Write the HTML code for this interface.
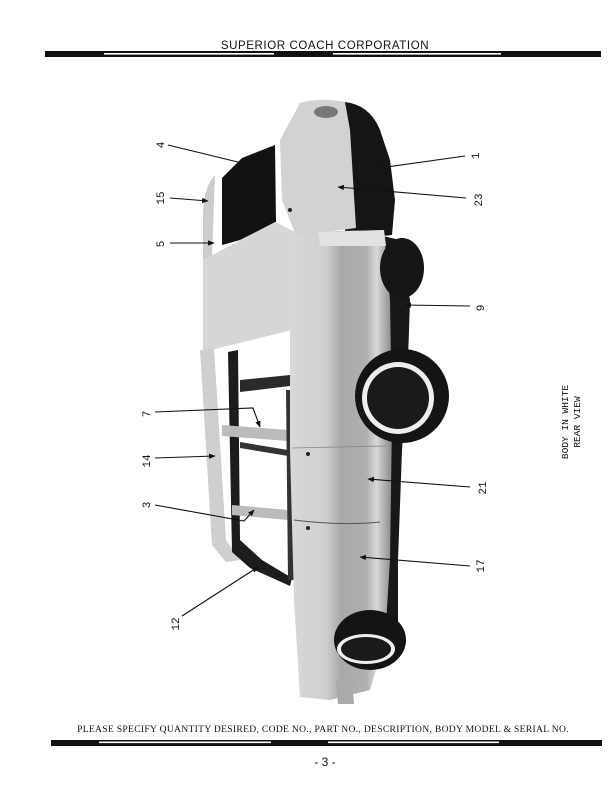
<!DOCTYPE html>
<html><head><meta charset="utf-8"><style>
html,body{margin:0;padding:0;background:#fff;}
body{width:612px;height:792px;position:relative;overflow:hidden;font-family:"Liberation Serif",serif;}
</style></head><body>
<svg width="612" height="792" viewBox="0 0 612 792" xmlns="http://www.w3.org/2000/svg">
<defs>
<marker id="ah" viewBox="0 0 10 10" refX="9" refY="5" markerWidth="6" markerHeight="6" orient="auto"><path d="M0 1 L10 5 L0 9 Z" fill="#111"/></marker>
<linearGradient id="bg" x1="0" x2="1" y1="0" y2="0">
<stop offset="0" stop-color="#d8d8d8"/><stop offset="0.35" stop-color="#d0d0d0"/><stop offset="0.5" stop-color="#a8a8a8"/><stop offset="0.75" stop-color="#b0b0b0"/><stop offset="0.85" stop-color="#d8d8d8"/><stop offset="1" stop-color="#888"/>
</linearGradient>
</defs>
<!-- header -->
<text x="325" y="49" text-anchor="middle" font-family="Liberation Sans, sans-serif" font-size="11.5" letter-spacing="0.6" fill="#111">SUPERIOR COACH CORPORATION</text>
<rect x="45" y="51" width="556" height="6" fill="#111"/>
<rect x="104" y="53" width="170" height="1.6" fill="#fff"/>
<rect x="333" y="53" width="168" height="1.6" fill="#fff"/>
<!-- footer -->
<text x="323" y="732" text-anchor="middle" font-size="9.6" letter-spacing="0.3" fill="#111">PLEASE SPECIFY QUANTITY DESIRED, CODE NO., PART NO., DESCRIPTION, BODY MODEL &amp; SERIAL NO.</text>
<rect x="51" y="740" width="551" height="6" fill="#111"/>
<rect x="99" y="741.5" width="172" height="1.6" fill="#fff"/>
<rect x="328" y="741.5" width="171" height="1.6" fill="#fff"/>
<text x="325" y="766" text-anchor="middle" font-family="Liberation Sans, sans-serif" font-size="12" fill="#111">- 3 -</text>

<!-- rear dark end -->
<path d="M345 102 Q370 105 380 130 L390 160 L395 200 L392 235 L345 240 Z" fill="#151515"/>
<!-- rear section light -->
<path d="M300 103 Q320 97 345 102 L350 130 L356 228 L296 236 L282 200 L280 140 Z" fill="#d2d2d2"/>
<ellipse cx="326" cy="112" rx="12" ry="6" fill="#777"/>
<!-- rear window -->
<path d="M222 178 L242 158 L275 145 L276 222 L240 240 L222 245 Z" fill="#111"/>
<path d="M215 175 Q205 185 203 210 L203 260 L212 258 L214 200 Z" fill="#ccc"/>
<!-- C pillar -->
<path d="M203 260 L275 222 L295 232 L292 330 L203 352 Z" fill="#d6d6d6"/>
<!-- roof rail & windshield frame -->
<path d="M200 350 L214 348 L226 540 L240 560 L226 562 L212 545 Z" fill="#cfcfcf"/>
<path d="M228 352 L238 350 L240 540 L262 560 L292 578 L290 586 L250 568 L232 552 Z" fill="#1c1c1c"/>
<path d="M240 380 L290 375 L290 386 L240 392 Z" fill="#2a2a2a"/>
<path d="M222 425 L288 430 L288 441 L222 436 Z" fill="#bbb"/>
<path d="M240 442 L288 450 L288 456 L240 448 Z" fill="#333"/>
<path d="M232 505 L288 510 L288 520 L232 515 Z" fill="#bbb"/>
<path d="M286 390 L292 390 L294 580 L288 580 Z" fill="#333"/>
<!-- dark lower edge -->
<path d="M378 235 L400 240 L410 300 L408 360 L402 450 L398 560 L398 630 L380 640 L378 240 Z" fill="#181818"/>
<!-- main body -->
<path d="M290 236 Q340 228 384 232 L390 300 L392 420 L390 560 L385 640 L370 690 L330 700 L300 697 L294 600 L290 450 Z" fill="url(#bg)"/>
<path d="M318 232 L384 230 L386 246 L320 246 Z" fill="#e2e2e2"/>
<line x1="292" y1="448" x2="386" y2="446" stroke="#888" stroke-width="0.8"/>
<path d="M294 520 Q340 526 380 522" stroke="#555" stroke-width="1" fill="none"/>
<circle cx="308" cy="454" r="2" fill="#222"/>
<circle cx="308" cy="528" r="2" fill="#222"/>
<circle cx="290" cy="210" r="2" fill="#222"/>
<!-- spare/dark tire near top -->
<ellipse cx="402" cy="268" rx="22" ry="30" fill="#151515"/>
<!-- rear wheel -->
<circle cx="402" cy="396" r="47" fill="#141414"/>
<circle cx="398" cy="398" r="36" fill="#eee"/>
<circle cx="398" cy="398" r="31" fill="#1a1a1a"/>
<!-- front wheel -->
<ellipse cx="370" cy="640" rx="36" ry="30" fill="#141414"/>
<ellipse cx="366" cy="649" rx="29" ry="15" fill="#eee"/>
<ellipse cx="366" cy="649" rx="25" ry="12" fill="#1a1a1a"/>
<path d="M336 680 L352 680 L354 704 L338 704 Z" fill="#aaa"/>

<!-- leader lines -->
<g stroke="#111" stroke-width="1.1" fill="none" marker-end="url(#ah)">
<line x1="168" y1="145" x2="246" y2="164"/>
<line x1="170" y1="198" x2="208" y2="201"/>
<line x1="170" y1="243" x2="214" y2="243"/>
<line x1="465" y1="156" x2="380" y2="168"/>
<line x1="466" y1="198" x2="338" y2="187"/>
<line x1="470" y1="306" x2="405" y2="305"/>
<polyline points="155,412 253,408 260,427"/>
<line x1="155" y1="458" x2="215" y2="456"/>
<polyline points="155,505 244,521 254,510"/>
<line x1="182" y1="616" x2="258" y2="567"/>
<line x1="470" y1="487" x2="368" y2="479"/>
<line x1="470" y1="566" x2="360" y2="557"/>
</g>
<!-- labels (rotated -90) -->
<g font-size="11" fill="#111" font-family="Liberation Mono, monospace">
<text transform="translate(164,145) rotate(-90)" text-anchor="middle">4</text>
<text transform="translate(164,198) rotate(-90)" text-anchor="middle">15</text>
<text transform="translate(164,244) rotate(-90)" text-anchor="middle">5</text>
<text transform="translate(150,414) rotate(-90)" text-anchor="middle">7</text>
<text transform="translate(150,461) rotate(-90)" text-anchor="middle">14</text>
<text transform="translate(150,505) rotate(-90)" text-anchor="middle">3</text>
<text transform="translate(179,624) rotate(-90)" text-anchor="middle">12</text>
<text transform="translate(479,156) rotate(-90)" text-anchor="middle">1</text>
<text transform="translate(482,200) rotate(-90)" text-anchor="middle">23</text>
<text transform="translate(484,308) rotate(-90)" text-anchor="middle">9</text>
<text transform="translate(486,488) rotate(-90)" text-anchor="middle">21</text>
<text transform="translate(484,566) rotate(-90)" text-anchor="middle">17</text>
<text transform="translate(568,422) rotate(-90)" text-anchor="middle" font-size="9.5">BODY IN WHITE</text>
<text transform="translate(580,422) rotate(-90)" text-anchor="middle" font-size="9.5">REAR VIEW</text>
</g>
</svg>
</body></html>
